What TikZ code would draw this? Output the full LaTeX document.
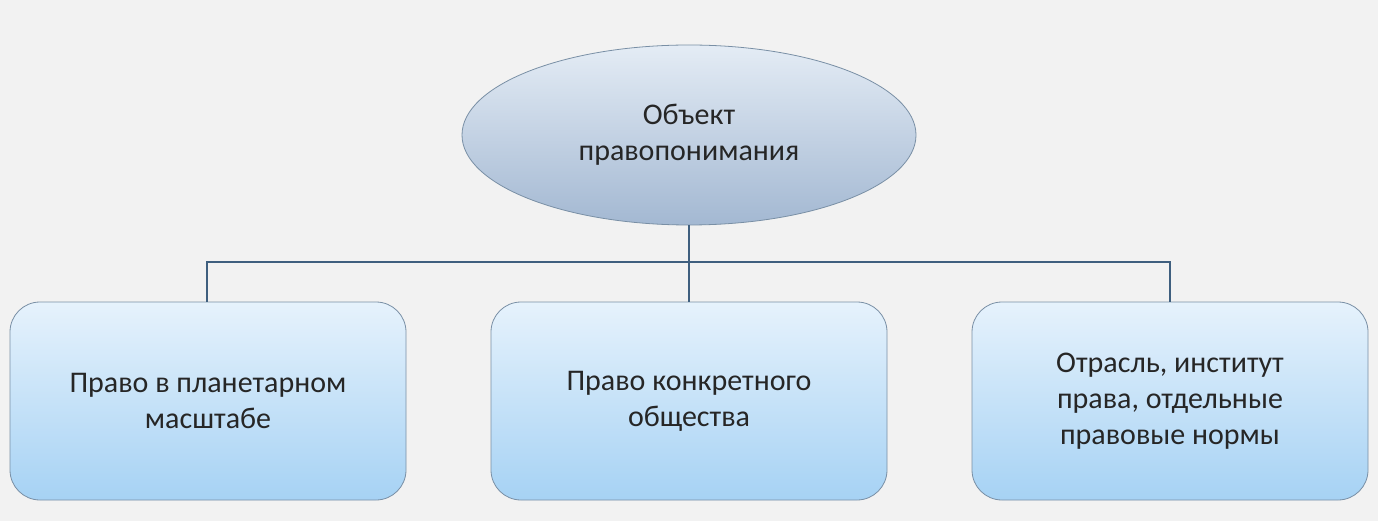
\documentclass[tikz,border=0pt]{standalone}
\usepackage{fontspec}
\setmainfont{Carlito}
\usetikzlibrary{shapes.geometric}
\definecolor{bg}{HTML}{F2F2F2}
\definecolor{ln}{HTML}{3F5F7F}
\definecolor{etop}{HTML}{E4ECF5}
\definecolor{ebot}{HTML}{A3B8D2}
\definecolor{btop}{HTML}{E6F2FC}
\definecolor{bbot}{HTML}{A6D2F4}
\tikzset{
  x=1pt,y=-1pt,
  boxst/.style={draw=ln!70,line width=0.8pt,rounded corners=30pt,minimum width=396pt,minimum height=198pt,top color=btop,bottom color=bbot,font=\fontsize{30}{36}\selectfont,align=center,text=black!85},
  ellst/.style={ellipse,draw=ln!70,line width=0.8pt,minimum width=454pt,minimum height=180pt,top color=etop,bottom color=ebot,font=\fontsize{30}{36}\selectfont,align=center,text=black!85},
  conn/.style={draw=ln,line width=1.2pt}
}
\begin{document}
\begin{tikzpicture}
\fill[bg] (0,0) rectangle (1378,521);
\useasboundingbox (0,0) rectangle (1378,521);
\coordinate (jl) at (207,262);
\coordinate (jr) at (1170,262);
\coordinate (jm) at (689,262);
\node[ellst] (e) at (689,135) {Объект\\правопонимания};
\node[boxst] (a) at (208,401) {Право в планетарном\\масштабе};
\node[boxst] (b) at (689,401) {Право конкретного\\общества};
\node[boxst] (c) at (1170,401) {Отрасль, институт\\права, отдельные\\правовые нормы};
\draw[conn] (e.south) -- (b.north);
\draw[conn] (a.north -| jl) -- (jl) -- (jr) -- (c.north -| jr);
\end{tikzpicture}
\end{document}
